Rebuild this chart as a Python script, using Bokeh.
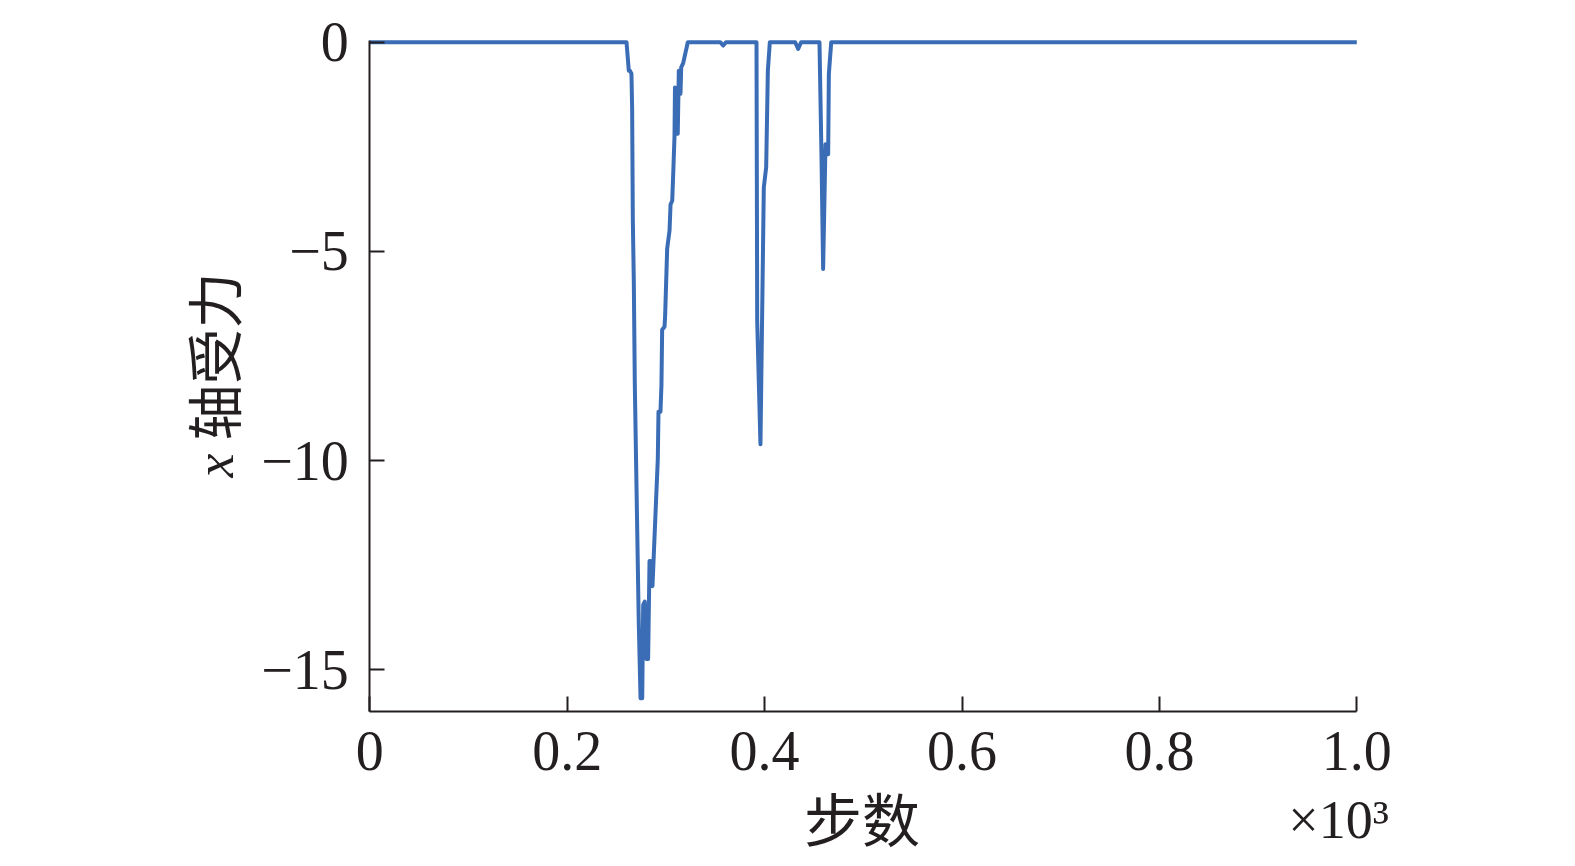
import math
from bokeh.plotting import figure
from bokeh.models import Range1d, FixedTicker, Label
from bokeh.embed import file_html
from bokeh.resources import INLINE

# ---- data (steps, x-axis force) ----
steps = [0, 260.1, 262.4, 263.5, 265.1, 265.8, 266.5, 267.5, 268.5, 270.2, 272.5, 274.3,
         276.0, 277.0, 278.6, 280.3, 282.0, 283.4, 284.4, 286.4, 289.5, 291.8, 292.5,
         294.5, 295.5, 296.2, 298.6, 299.2, 301.3, 303.7, 304.7, 306.4, 307.4, 308.7,
         309.2, 310.7, 312.0, 313.1, 314.8, 315.5, 317.5, 322.2,
         355.0, 358.0, 361.0,
         391.8, 392.5, 395.8, 399.2, 401.6, 403.3, 405.3,
         431.0, 434.0, 437.0,
         455.6, 457.6, 459.3, 461.7, 464.4, 465.1, 467.5,
         1000]
force = [0, 0, -0.68, -0.68, -0.75, -1.6, -4.27, -5.74, -8.18, -10.6, -13.86, -15.68,
         -15.68, -13.45, -13.37, -14.74, -14.74, -12.4, -12.4, -13.0, -11.25, -9.96, -8.83,
         -8.83, -8.18, -6.87, -6.8, -6.55, -4.93, -4.5, -3.88, -3.79, -3.15, -2.27,
         -1.08, -1.56, -2.19, -0.68, -1.23, -0.6, -0.5, 0,
         0, -0.08, 0,
         0, -6.66, -9.61, -3.47, -2.99, -0.68, 0,
         0, -0.16, 0,
         0, -2.67, -5.42, -2.44, -2.68, -0.76, 0,
         0]

x_ticks = [0, 200, 400, 600, 800, 1000]
x_tick_labels = ["0", "0.2", "0.4", "0.6", "0.8", "1.0"]
y_ticks = [0, -5, -10, -15]
y_tick_labels = ["0", "\u22125", "\u221210", "\u221215"]
x_bounds = (0, 1000)
y_bounds = (-16, 0.03)

x_title = "步数"
y_title_var = "x"
y_title = "轴受力"
x_scale_note = "×10³"

TEXT = "#231f20"
LINE = "#3a6db5"

W, H = 1560, 860
SX, SY = 0.987, 41.84          # px per data unit
X0_PX, Y0_PX = 369.3, 41.7     # page position of data origin
x_start = -X0_PX / SX
y_end = Y0_PX / SY

p = figure(width=W, height=H,
           x_range=Range1d(x_start, x_start + W / SX),
           y_range=Range1d(y_end - H / SY, y_end),
           output_backend="svg", toolbar_location=None,
           min_border=0, min_border_left=0, min_border_right=0,
           min_border_top=0, min_border_bottom=0)

p.line(steps, force, line_width=4, line_color=LINE, line_join="round")

p.xgrid.grid_line_color = None
p.ygrid.grid_line_color = None
p.outline_line_color = None
p.background_fill_color = "white"
p.border_fill_color = "white"

for ax in (p.xaxis[0], p.yaxis[0]):
    ax.axis_line_width = 2
    ax.axis_line_color = TEXT
    ax.major_tick_line_width = 2
    ax.major_tick_line_color = TEXT
    ax.major_tick_in = 15
    ax.major_tick_out = 0
    ax.minor_tick_line_color = None
    ax.major_label_text_font = "Liberation Serif"
    ax.major_label_text_font_size = "56px"
    ax.major_label_text_color = TEXT

p.xaxis.fixed_location = y_bounds[0]
p.xaxis.bounds = x_bounds
p.xaxis.ticker = FixedTicker(ticks=x_ticks)
p.xaxis.major_label_overrides = {t: l for t, l in zip(x_ticks, x_tick_labels)}
p.xaxis.major_label_standoff = 20

p.yaxis.fixed_location = 0
p.yaxis.bounds = y_bounds
p.yaxis.ticker = FixedTicker(ticks=y_ticks)
p.yaxis.major_label_overrides = {t: l for t, l in zip(y_ticks, y_tick_labels)}
p.yaxis.major_label_standoff = 21

p.add_layout(Label(x=498.7, y=-18.51, text=x_title, text_align="center",
                   text_baseline="middle", text_font="Noto Sans CJK SC",
                   text_font_size="58px", text_color=TEXT))
p.add_layout(Label(x=1032.5, y=-18.60, text=x_scale_note, text_align="right",
                   text_baseline="alphabetic", text_font="Liberation Serif",
                   text_font_size="54px", text_color=TEXT))
p.add_layout(Label(x=-160.4, y=-7.51, text=y_title, angle=math.pi / 2,
                   text_align="center", text_baseline="middle",
                   text_font="Noto Sans CJK SC", text_font_size="56px",
                   text_color=TEXT))
p.add_layout(Label(x=-157.2, y=-10.12, text=y_title_var, angle=math.pi / 2,
                   text_align="center", text_baseline="alphabetic",
                   text_font="Liberation Serif", text_font_style="italic",
                   text_font_size="54px", text_color=TEXT))

open("out.html", "w").write(file_html(p, INLINE))
